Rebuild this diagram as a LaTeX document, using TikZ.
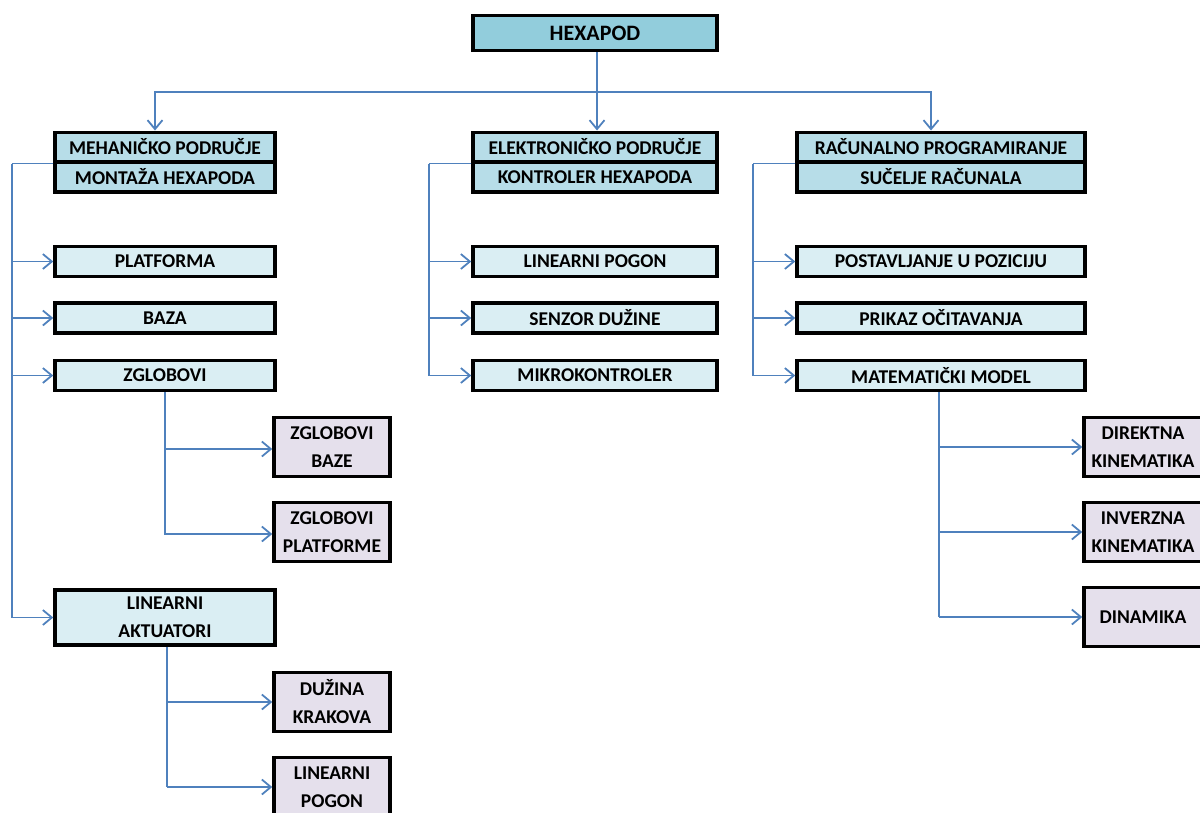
\documentclass[tikz,border=0pt]{standalone}
\usepackage{fontspec}
\setmainfont{Carlito}
\usetikzlibrary{arrows.meta,calc}
\definecolor{chex}{HTML}{92CDDC}
\definecolor{ctwo}{HTML}{B7DDE8}
\definecolor{cthree}{HTML}{DAEEF3}
\definecolor{cfour}{HTML}{E5E0EC}
\definecolor{lineblue}{HTML}{4F81BD}
\begin{document}
\begin{tikzpicture}[x=1pt,y=-1pt,
  font=\bfseries\fontsize{19.5}{28}\selectfont,
  box/.style={draw=black, line width=3.5pt, inner sep=0pt, align=center, text=black},
  hexbox/.style={box, fill=chex, minimum width=244pt, minimum height=35pt, font=\bfseries\fontsize{22}{26}\selectfont},
  twobox/.style={box, fill=ctwo, minimum height=29.5pt},
  threebox/.style={box, fill=cthree, minimum height=30pt},
  fourbox/.style={box, fill=cfour, minimum width=116pt, minimum height=59pt},
  conn/.style={draw=lineblue, line width=1.8pt},
  arr/.style={conn, -{Straight Barb[length=9pt,width=15pt]}}]
\useasboundingbox (0,0) rectangle (1200,812);
\clip (0,0) rectangle (1200,812);

% top
\node[hexbox] (hex) at (595,33) {HEXAPOD};

% level 2
\node[twobox, minimum width=220pt] (mech1) at (165,147) {MEHANIČKO PODRUČJE};
\node[twobox, minimum width=220pt] (mech2) at (165,177) {MONTAŽA HEXAPODA};
\node[twobox, minimum width=244pt] (elek1) at (595,147) {ELEKTRONIČKO PODRUČJE};
\node[twobox, minimum width=244pt] (elek2) at (595,177) {KONTROLER HEXAPODA};
\node[twobox, minimum width=288pt] (rac1) at (941,147) {RAČUNALNO PROGRAMIRANJE};
\node[twobox, minimum width=288pt] (rac2) at (941,177) {SUČELJE RAČUNALA};

% level 3 left
\node[threebox, minimum width=220pt] (plat) at (165,261.5) {PLATFORMA};
\node[threebox, minimum width=220pt] (baza) at (165,318) {BAZA};
\node[threebox, minimum width=220pt] (zglob) at (165,375.5) {ZGLOBOVI};
\node[threebox, minimum width=220pt, minimum height=55pt] (la) at (165,617.5) {LINEARNI\\AKTUATORI};
% level 3 middle
\node[threebox, minimum width=244pt] (lp) at (595,261.5) {LINEARNI POGON};
\node[threebox, minimum width=244pt] (sd) at (595,318) {SENZOR DUŽINE};
\node[threebox, minimum width=244pt] (mk) at (595,375.5) {MIKROKONTROLER};
% level 3 right
\node[threebox, minimum width=288pt] (pos) at (941,261.5) {POSTAVLJANJE U POZICIJU};
\node[threebox, minimum width=288pt] (pri) at (941,318) {PRIKAZ OČITAVANJA};
\node[threebox, minimum width=288pt] (mat) at (941,375.5) {MATEMATIČKI MODEL};

% level 4
\node[fourbox] (zb) at (332,447) {ZGLOBOVI\\BAZE};
\node[fourbox] (zp) at (332,532) {ZGLOBOVI\\PLATFORME};
\node[fourbox] (dk) at (332,702) {DUŽINA\\KRAKOVA};
\node[fourbox] (lpg) at (332,787) {LINEARNI\\POGON};
\node[fourbox, minimum width=118pt] (dir) at (1143,447) {DIREKTNA\\KINEMATIKA};
\node[fourbox, minimum width=118pt] (inv) at (1143,532) {INVERZNA\\KINEMATIKA};
\node[fourbox, minimum width=118pt] (din) at (1143,617) {DINAMIKA};

% top connectors
\coordinate (bus) at (597,92);
\draw[arr] (hex.south -| bus) -- (elek1.north -| bus);
\draw[arr] (bus) -| ([xshift=-10pt]mech1.north);
\draw[arr] (bus) -| ([xshift=-10pt]rac1.north);

% left branch
\draw[conn] (mech1.south west) -- ++(-41,0) coordinate (lb);
\draw[conn] (lb) -- (lb |- la.west);
\foreach \t in {plat,baza,zglob,la} \draw[arr] (lb |- \t.west) -- (\t.west);
% middle branch
\draw[conn] (elek1.south west) -- ++(-42,0) coordinate (mb);
\draw[conn] (mb) -- (mb |- mk.west);
\foreach \t in {lp,sd,mk} \draw[arr] (mb |- \t.west) -- (\t.west);
% right branch
\draw[conn] (rac1.south west) -- ++(-42,0) coordinate (rb);
\draw[conn] (rb) -- (rb |- mat.west);
\foreach \t in {pos,pri,mat} \draw[arr] (rb |- \t.west) -- (\t.west);

% level 4 connectors
\draw[conn] (zglob.south) -- ([yshift=-3pt]zglob.south |- zp.west);
\foreach \t in {zb,zp} \draw[arr] ([yshift=-2pt]zglob.south |- \t.west) -- ([yshift=-2pt]\t.west);
\draw[conn] ([xshift=2pt]la.south) -- ([xshift=2pt]la.south |- lpg.west);
\foreach \t in {dk,lpg} \draw[arr] ([xshift=2pt]la.south |- \t.west) -- (\t.west);
\draw[conn] ([xshift=-2pt]mat.south) -- ([xshift=-2pt]mat.south |- din.west);
\foreach \t in {dir,inv,din} \draw[arr] ([xshift=-2pt]mat.south |- \t.west) -- (\t.west);
\end{tikzpicture}
\end{document}
